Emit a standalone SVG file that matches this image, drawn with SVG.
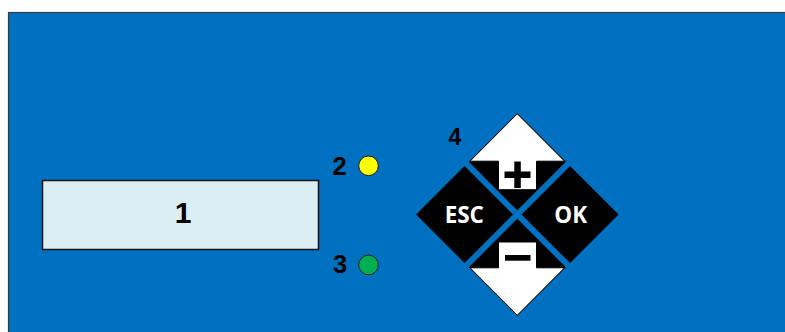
<svg xmlns="http://www.w3.org/2000/svg" width="785" height="332" viewBox="0 0 785 332">
  <style>
    .num { font-family: "Liberation Sans", Arial, sans-serif; font-weight: bold; fill: #000; text-anchor: middle; }
    .key { fill: #000; }
    .keytxt { font-family: "Open Sans", "DejaVu Sans", sans-serif; font-weight: bold; fill: #fff; text-anchor: middle; font-size: 22.5px; }
    .arrow { fill: #fff; stroke: #000; stroke-width: 1; }
    .led { stroke: #1a1a1a; stroke-width: 1; }
  </style>
  <rect width="785" height="332" fill="#fff"/>
  <g id="panel">
    <rect x="8.5" y="12.5" width="800" height="400" fill="#0070C0" stroke="#3a3a3a" stroke-width="1.2"/>
  </g>
  <g id="display">
    <rect x="42.5" y="180.5" width="276" height="69" fill="#DAEEF3" stroke="#111" stroke-width="1.5"/>
    <text class="num" x="183" y="223.3" font-size="30">1</text>
  </g>
  <g id="led-yellow">
    <text class="num" x="339.5" y="175" font-size="25.5">2</text>
    <circle class="led" cx="368.5" cy="165.8" r="9.8" fill="#FFFF00"/>
  </g>
  <g id="led-green">
    <text class="num" x="340" y="273.3" font-size="25.5">3</text>
    <circle class="led" cx="368.5" cy="265" r="9.8" fill="#00B050"/>
  </g>
  <g id="keypad">
    <text class="num" x="455" y="145" font-size="23">4</text>
    <g id="key-plus">
      <polygon class="key" points="517.3,113.25 565.8,161.75 517.3,210.25 468.8,161.75"/>
      <polygon class="arrow" points="517.3,113.8 564.6,161.2 536.5,161.2 536.5,189.7 498.5,189.7 498.5,161.2 470,161.2"/>
      <rect x="504.5" y="171.5" width="26" height="6.5" fill="#000"/>
      <rect x="514.3" y="161.5" width="6.5" height="26.5" fill="#000"/>
    </g>
    <g id="key-esc">
      <polygon class="key" points="464.55,166 513.05,214.5 464.55,263 416.05,214.5"/>
      <text class="keytxt" x="464.3" y="222.7">ESC</text>
    </g>
    <g id="key-ok">
      <polygon class="key" points="570.05,166 618.55,214.5 570.05,263 521.55,214.5"/>
      <text class="keytxt" x="570.8" y="222.7">OK</text>
    </g>
    <g id="key-minus">
      <polygon class="key" points="517.3,218.75 565.8,267.25 517.3,315.75 468.8,267.25"/>
      <polygon class="arrow" points="517.3,315.2 564.6,267.8 536.5,267.8 536.5,242 498.5,242 498.5,267.8 470,267.8"/>
      <rect x="505" y="255" width="25.5" height="5.7" fill="#000"/>
    </g>
  </g>
</svg>
